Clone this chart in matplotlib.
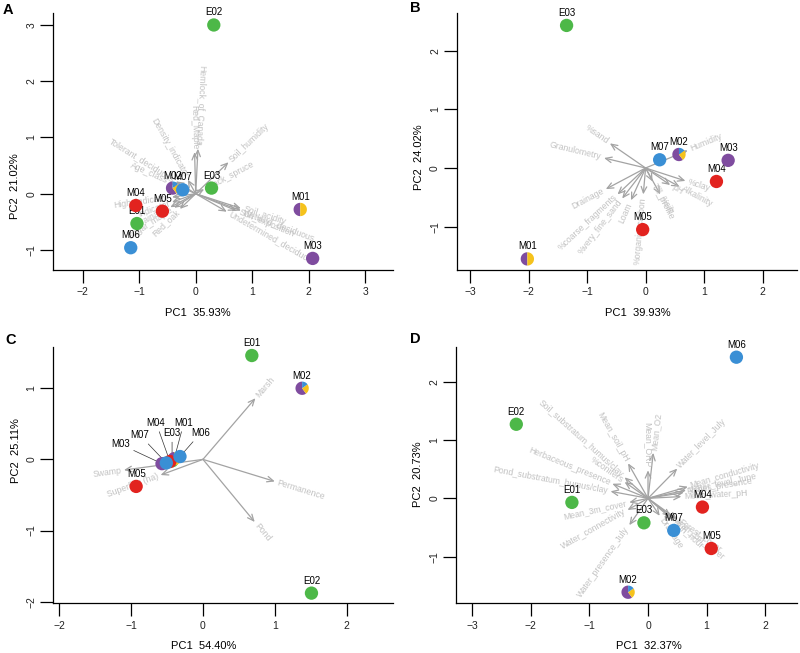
import numpy as np
import matplotlib.pyplot as plt

plt.rcParams['font.family'] = ['Liberation Sans', 'DejaVu Sans']

GREEN, BLUE, RED = '#4db848', '#3a8fd5', '#e2231f'
PURPLE, YELLOW = '#7f4c9f', '#f5c21c'
ARROW, VARTXT = '#a3a3a3', '#c2c2c2'

colour = {'E01': GREEN, 'E02': GREEN, 'E03': GREEN, 'M03': PURPLE,
          'M04': RED, 'M05': RED, 'M06': BLUE, 'M07': BLUE}
pie_colours = [PURPLE, YELLOW, BLUE]
pie_share = {'M01': [0.5, 0.5, 0.0], 'M02': [0.6, 0.25, 0.15]}

# ---- A
sites_a = ['E01', 'E02', 'E03', 'M01', 'M02', 'M03', 'M04', 'M05', 'M06', 'M07']
pc1_a = [-1.04, 0.32, 0.28, 1.85, -0.41, 2.07, -1.06, -0.59, -1.15, -0.23]
pc2_a = [-0.53, 3.00, 0.10, -0.28, 0.10, -1.15, -0.21, -0.31, -0.96, 0.07]
vars_a = ['Hemlock_of_Canada', 'Red_Maple', 'Soil_humidity', 'Black_spruce',
          'Soil_acidity', 'Wetland_deciduous', 'Sun_exposition', 'Undetermined_deciduous',
          'Density_indicator', 'Tolerant_deciduous', 'Age_class', 'High_indicator',
          'Indicator', 'Drainage', 'Sugar_maple', 'Red_oak']
load1_a = [0.04, -0.02, 0.58, 0.15, 0.80, 0.80, 0.72, 0.55,
           -0.14, -0.35, -0.45, -0.42, -0.42, -0.45, -0.38, -0.28]
load2_a = [0.80, 0.74, 0.56, 0.08, -0.26, -0.30, -0.30, -0.32,
           0.25, 0.22, 0.20, -0.06, -0.15, -0.24, -0.25, -0.27]

# ---- B
sites_b = ['E03', 'M01', 'M02', 'M03', 'M04', 'M05', 'M07']
pc1_b = [-1.35, -2.02, 0.57, 1.41, 1.21, -0.05, 0.24]
pc2_b = [2.43, -1.55, 0.23, 0.13, -0.23, -1.05, 0.14]
vars_b = ['%sand', 'Granulometry', 'Humidity', '%clay', 'Alkalinity', 'pH', '%silt',
          'Till_profile', '%organic_carbon', 'Loam', '%very_fine_sand',
          '%coarse_fragments', 'Drainage']
load1_b = [-0.61, -0.71, 0.72, 0.68, 0.58, 0.42, 0.25, 0.12, -0.04, -0.25, -0.40, -0.48, -0.68]
load2_b = [0.42, 0.17, 0.30, -0.22, -0.32, -0.29, -0.45, -0.23, -0.45, -0.55, -0.52, -0.45, -0.36]

# ---- C
sites_c = ['E01', 'E02', 'E03', 'M01', 'M02', 'M03', 'M04', 'M05', 'M06', 'M07']
pc1_c = [0.68, 1.51, -0.43, -0.40, 1.38, -0.57, -0.46, -0.93, -0.32, -0.51]
pc2_c = [1.46, -1.88, -0.02, 0.01, 1.00, -0.06, -0.03, -0.38, 0.04, -0.05]
vars_c = ['Marsh', 'Permanence', 'Pond', 'Swamp', 'Superficy (ha)']
load1_c = [0.73, 1.00, 0.72, -1.10, -0.59]
load2_c = [0.86, -0.31, -0.88, -0.15, -0.22]

# ---- D
sites_d = ['E01', 'E02', 'E03', 'M02', 'M04', 'M05', 'M06', 'M07']
pc1_d = [-1.30, -2.25, -0.07, -0.34, 0.93, 1.08, 1.51, 0.44]
pc2_d = [-0.07, 1.27, -0.42, -1.61, -0.15, -0.86, 2.42, -0.55]
vars_d = ['Mean_O2', 'Mean_ORP', 'Mean_soil_pH', 'Soil_substratum_humus/clay',
          '%conifers', 'Herbaceous_presence', 'Pond_substratum_humus/clay',
          'Mean_3m_cover', 'Water_connectivity', 'Water_presence_July',
          'Water_level_July', 'Mean_conductivity', 'Water_level_June',
          'Fishes_presence', 'Mean_water_pH', 'Drainage', 'Sun_hour',
          'Mean_1m_cover', 'Forest_cover']
load1_d = [0.09, 0.00, -0.34, -0.40, -0.40, -0.61, -0.64, -0.32, -0.35, -0.32,
           0.50, 0.68, 0.65, 0.61, 0.57, 0.20, 0.42, 0.39, 0.50]
load2_d = [0.78, 0.48, 0.60, 0.36, 0.28, 0.25, 0.12, -0.07, -0.20, -0.46,
           0.51, 0.20, 0.14, 0.10, 0.03, -0.30, -0.37, -0.31, -0.36]

# label offsets (points) for the crowded sites of panel C
offsets_c = {'M03': (-30, 14), 'M07': (-19, 20), 'M04': (-10, 28),
             'E03': (0, 20), 'M01': (7, 26), 'M06': (15, 17)}

SIZE = 92


def pie_point(ax, x, y, shares):
    start = np.pi / 2
    for share, col in zip(shares, pie_colours):
        if share <= 0:
            continue
        stop = start + 2 * np.pi * share
        t = np.linspace(start, stop, 40)
        verts = np.column_stack([np.r_[0, np.cos(t), 0], np.r_[0, np.sin(t), 0]])
        scale = np.abs(verts).max()
        ax.scatter([x], [y], marker=verts, s=SIZE * scale ** 2, color=col,
                   edgecolors='none', zorder=4)
        start = stop


def biplot(ax, sites, pc1, pc2, names, l1, l2, xlim, ylim, xticks, yticks,
           xlab, ylab, xlab_pos, ylab_pos, offsets=None):
    ax.set_xlim(xlim)
    ax.set_ylim(ylim)
    ax.set_xticks(xticks)
    ax.set_yticks(yticks)
    for s in ('top', 'right'):
        ax.spines[s].set_visible(False)
    for s in ('left', 'bottom'):
        ax.spines[s].set_linewidth(0.9)
    ax.tick_params(direction='out', length=9.5, width=0.9, labelsize=7.5,
                   labelcolor='#222222')
    ax.tick_params(axis='x', pad=3)
    ax.tick_params(axis='y', pad=2.5, labelrotation=90)
    for t in ax.get_yticklabels():
        t.set_va('center')

    # variable arrows
    p0 = ax.transData.transform((0, 0))
    for name, vx, vy in zip(names, l1, l2):
        ax.annotate('', xy=(vx, vy), xytext=(0, 0),
                    arrowprops=dict(arrowstyle='->,head_length=0.45,head_width=0.2',
                                    color=ARROW, lw=0.9, shrinkA=0, shrinkB=0),
                    zorder=2)
        p1 = ax.transData.transform((vx, vy))
        ang = np.degrees(np.arctan2(p1[1] - p0[1], p1[0] - p0[0]))
        if -85 <= ang <= 85:
            rot, ha = ang, 'left'
        else:
            rot, ha = (ang - 180 if ang > 0 else ang + 180), 'right'
        u = np.array([np.cos(np.radians(ang)), np.sin(np.radians(ang))]) * 2
        ax.annotate(name, (vx, vy), xytext=u, textcoords='offset points',
                    rotation=rot, rotation_mode='anchor', ha=ha, va='center',
                    color=VARTXT, fontsize=6.2, zorder=2)

    # sites
    offsets = offsets or {}
    for s, x, y in zip(sites, pc1, pc2):
        if s in offsets:
            ax.annotate(s, (x, y), xytext=offsets[s], textcoords='offset points',
                        ha='center', va='center', fontsize=7, zorder=3,
                        arrowprops=dict(arrowstyle='-', color='#333333', lw=0.5,
                                        shrinkA=1, shrinkB=4))
        else:
            ax.annotate(s, (x, y), xytext=(0, 9), textcoords='offset points',
                        ha='center', va='center', fontsize=7, zorder=3)
        if s in pie_share:
            pie_point(ax, x, y, pie_share[s])
        else:
            ax.scatter([x], [y], s=SIZE, color=colour[s], edgecolors='none', zorder=4)

    ax.text(xlab_pos, -0.167, xlab, transform=ax.transAxes, ha='center',
            va='center', fontsize=8)
    ax.text(-0.111, ylab_pos, ylab, transform=ax.transAxes, ha='center',
            va='center', fontsize=8, rotation=90)


fig = plt.figure(figsize=(8, 6.53), dpi=100)
W, H = 800, 653


def add_axes(l, t, r, b):
    return fig.add_axes([l / W, 1 - b / H, (r - l) / W, (b - t) / H])


ax_a = add_axes(53, 13, 393, 270)
ax_b = add_axes(456.7, 13, 796.7, 270)
ax_c = add_axes(53.3, 346.7, 393.3, 603.3)
ax_d = add_axes(456, 346.7, 796.7, 603.3)

biplot(ax_a, sites_a, pc1_a, pc2_a, vars_a, load1_a, load2_a,
       (-2.526, 3.492), (-1.356, 3.213), range(-2, 4), range(-1, 4),
       'PC1  35.93%', 'PC2  21.02%', 0.426, 0.327)
biplot(ax_b, sites_b, pc1_b, pc2_b, vars_b, load1_b, load2_b,
       (-3.227, 2.581), (-1.739, 2.642), range(-3, 3), range(-1, 3),
       'PC1  39.93%', 'PC2  24.02%', 0.533, 0.44)
biplot(ax_c, sites_c, pc1_c, pc2_c, vars_c, load1_c, load2_c,
       (-2.083, 2.649), (-2.023, 1.584), range(-2, 3), range(-2, 2),
       'PC1  54.40%', 'PC2  25.11%', 0.441, 0.594, offsets_c)
biplot(ax_d, sites_d, pc1_d, pc2_d, vars_d, load1_d, load2_d,
       (-3.28, 2.54), (-1.80, 2.60), range(-3, 3), range(-1, 3),
       'PC1  32.37%', 'PC2  20.73%', 0.566, 0.502)

for letter, x, y in (('A', 7.5, 10), ('B', 415, 8), ('C', 11, 340), ('D', 415, 339)):
    fig.text(x / W, 1 - y / H, letter, ha='center', va='center',
             fontsize=10.5, fontweight='bold')

fig.savefig('out.png', dpi=100)
